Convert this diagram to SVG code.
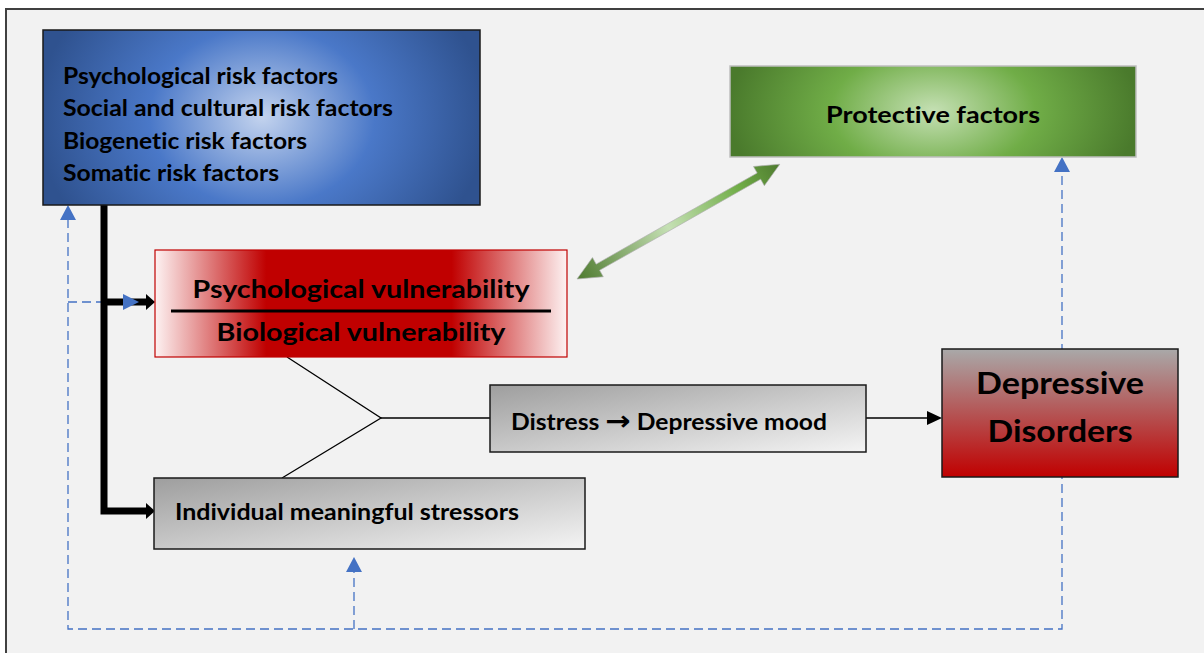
<svg xmlns="http://www.w3.org/2000/svg" width="1204" height="653" viewBox="0 0 1204 653">
  <defs>
    <radialGradient id="gBlue" gradientUnits="userSpaceOnUse" cx="262" cy="117" r="225" gradientTransform="translate(262 117) scale(1 0.8) translate(-262 -117)">
      <stop offset="0" stop-color="#c3d3ee"/>
      <stop offset="0.5" stop-color="#4a78c8"/>
      <stop offset="1" stop-color="#2f528f"/>
    </radialGradient>
    <radialGradient id="gGreen" gradientUnits="userSpaceOnUse" cx="933" cy="111" r="205" gradientTransform="translate(933 111) scale(1 0.6) translate(-933 -111)">
      <stop offset="0" stop-color="#c5e0b4"/>
      <stop offset="0.5" stop-color="#70ad47"/>
      <stop offset="1" stop-color="#4a7a2c"/>
    </radialGradient>
    <linearGradient id="gRed" x1="0" y1="0" x2="1" y2="0">
      <stop offset="0" stop-color="#fdf2f2"/>
      <stop offset="0.27" stop-color="#c00000"/>
      <stop offset="0.72" stop-color="#c00000"/>
      <stop offset="1" stop-color="#fdf2f2"/>
    </linearGradient>
    <linearGradient id="gGray" x1="0" y1="0" x2="1" y2="1">
      <stop offset="0" stop-color="#9e9e9e"/>
      <stop offset="1" stop-color="#f4f4f4"/>
    </linearGradient>
    <linearGradient id="gDep" x1="0" y1="0" x2="0" y2="1">
      <stop offset="0" stop-color="#a9a9a9"/>
      <stop offset="1" stop-color="#c00000"/>
    </linearGradient>
    <linearGradient id="gArrow" gradientUnits="userSpaceOnUse" x1="0" y1="0" x2="233" y2="0">
      <stop offset="0" stop-color="#4e7a2f"/>
      <stop offset="0.45" stop-color="#c5e0b4"/>
      <stop offset="0.8" stop-color="#70ad47"/>
      <stop offset="1" stop-color="#4e7a2f"/>
    </linearGradient>
  </defs>
  <style>
    text { font-family: Lato, "Liberation Sans", sans-serif; font-weight: bold; fill: #000; font-variant-ligatures: none; }
    .arr { font-family: "DejaVu Sans", sans-serif; font-weight: bold; font-size: 27px; }
    .box { stroke: #1a1a1a; stroke-width: 1.5; }
    .dash { fill: none; stroke: #4472c4; stroke-width: 1.3; stroke-dasharray: 9 5; }
    .bluehead { fill: #4472c4; }
    .thin { fill: none; stroke: #000; stroke-width: 1.3; }
    .thick { fill: none; stroke: #000; stroke-width: 7; }
  </style>

  <!-- canvas frame -->
  <rect x="0" y="0" width="1204" height="653" fill="#ffffff"/>
  <rect x="6" y="9" width="1300" height="700" fill="#f2f2f2" stroke="#404040" stroke-width="2"/>

  <!-- connectors -->
  <g id="connectors">
    <!-- feedback loop (dashed blue) -->
    <polyline class="dash" points="68,219 68,629 1062,629 1062,172"/>
    <line class="dash" x1="68" y1="302" x2="124" y2="302"/>
    <line class="dash" x1="354" y1="629" x2="354" y2="572"/>
    <polygon class="bluehead" points="68,205 60,220 76,220"/>
    <polygon class="bluehead" points="354,557 346,572 362,572"/>
    <polygon class="bluehead" points="1062,157 1054,172 1070,172"/>

    <!-- risk factors to vulnerability and stressors -->
    <polyline class="thick" points="104,205 104,511 147,511"/>
    <line class="thick" x1="104" y1="302" x2="147" y2="302"/>
    <polygon points="155,511 146,503 146,519" fill="#000"/>
    <polygon points="155,302 146,294 146,310" fill="#000"/>
    <polygon class="bluehead" points="139,302 123,294 123,310"/>

    <!-- vulnerability and stressors converge into distress -->
    <polyline class="thin" points="287,357 381,418 282,478"/>
    <line class="thin" x1="381" y1="418" x2="490" y2="418"/>

    <!-- distress to depressive disorders -->
    <line class="thin" x1="866" y1="418" x2="930" y2="418"/>
    <polygon points="942,418 927,411 927,425" fill="#000"/>

    <!-- protective factors interplay -->
    <g transform="translate(577 279) rotate(-29.5)">
      <polygon points="0,0 24,-11 24,-3.5 209,-3.5 209,-11 233,0 209,11 209,3.5 24,3.5 24,11" fill="url(#gArrow)" stroke="#b0b0b0" stroke-width="0.6"/>
    </g>
  </g>

  <g id="risk-factors">
    <rect class="box" x="43" y="30" width="437" height="175" fill="url(#gBlue)"/>
    <text x="63" y="84" font-size="22" textLength="275" lengthAdjust="spacingAndGlyphs">Psychological risk factors</text>
    <text x="63" y="116" font-size="22" textLength="330" lengthAdjust="spacingAndGlyphs">Social and cultural risk factors</text>
    <text x="63" y="149" font-size="22" textLength="244" lengthAdjust="spacingAndGlyphs">Biogenetic risk factors</text>
    <text x="63" y="181" font-size="22" textLength="216" lengthAdjust="spacingAndGlyphs">Somatic risk factors</text>
  </g>

  <g id="protective-factors">
    <rect x="730" y="66" width="406" height="91" fill="url(#gGreen)" stroke="#bfbfbf" stroke-width="1.5"/>
    <text x="933" y="123" font-size="23" text-anchor="middle" textLength="214" lengthAdjust="spacingAndGlyphs">Protective factors</text>
  </g>

  <g id="vulnerability">
    <rect x="155" y="250" width="412" height="107" fill="url(#gRed)" stroke="#c00000" stroke-width="1.2"/>
    <text x="361" y="298" font-size="25" text-anchor="middle" textLength="337" lengthAdjust="spacingAndGlyphs">Psychological vulnerability</text>
    <line x1="171" y1="311" x2="551" y2="311" stroke="#000" stroke-width="3"/>
    <text x="361" y="341" font-size="25" text-anchor="middle" textLength="289" lengthAdjust="spacingAndGlyphs">Biological vulnerability</text>
  </g>

  <g id="distress">
    <rect class="box" x="490" y="385" width="376" height="67" fill="url(#gGray)"/>
    <text x="511" y="430" font-size="22" textLength="316" lengthAdjust="spacingAndGlyphs">Distress <tspan class="arr">→</tspan> Depressive mood</text>
  </g>

  <g id="stressors">
    <rect class="box" x="154" y="478" width="431" height="71" fill="url(#gGray)"/>
    <text x="175" y="520" font-size="22" textLength="344" lengthAdjust="spacingAndGlyphs">Individual meaningful stressors</text>
  </g>

  <g id="depressive-disorders">
    <rect class="box" x="942" y="349" width="236" height="128" fill="url(#gDep)"/>
    <text x="1060" y="394" font-size="30" text-anchor="middle" textLength="168" lengthAdjust="spacingAndGlyphs">Depressive</text>
    <text x="1060" y="442" font-size="30" text-anchor="middle" textLength="145" lengthAdjust="spacingAndGlyphs">Disorders</text>
  </g>
</svg>
